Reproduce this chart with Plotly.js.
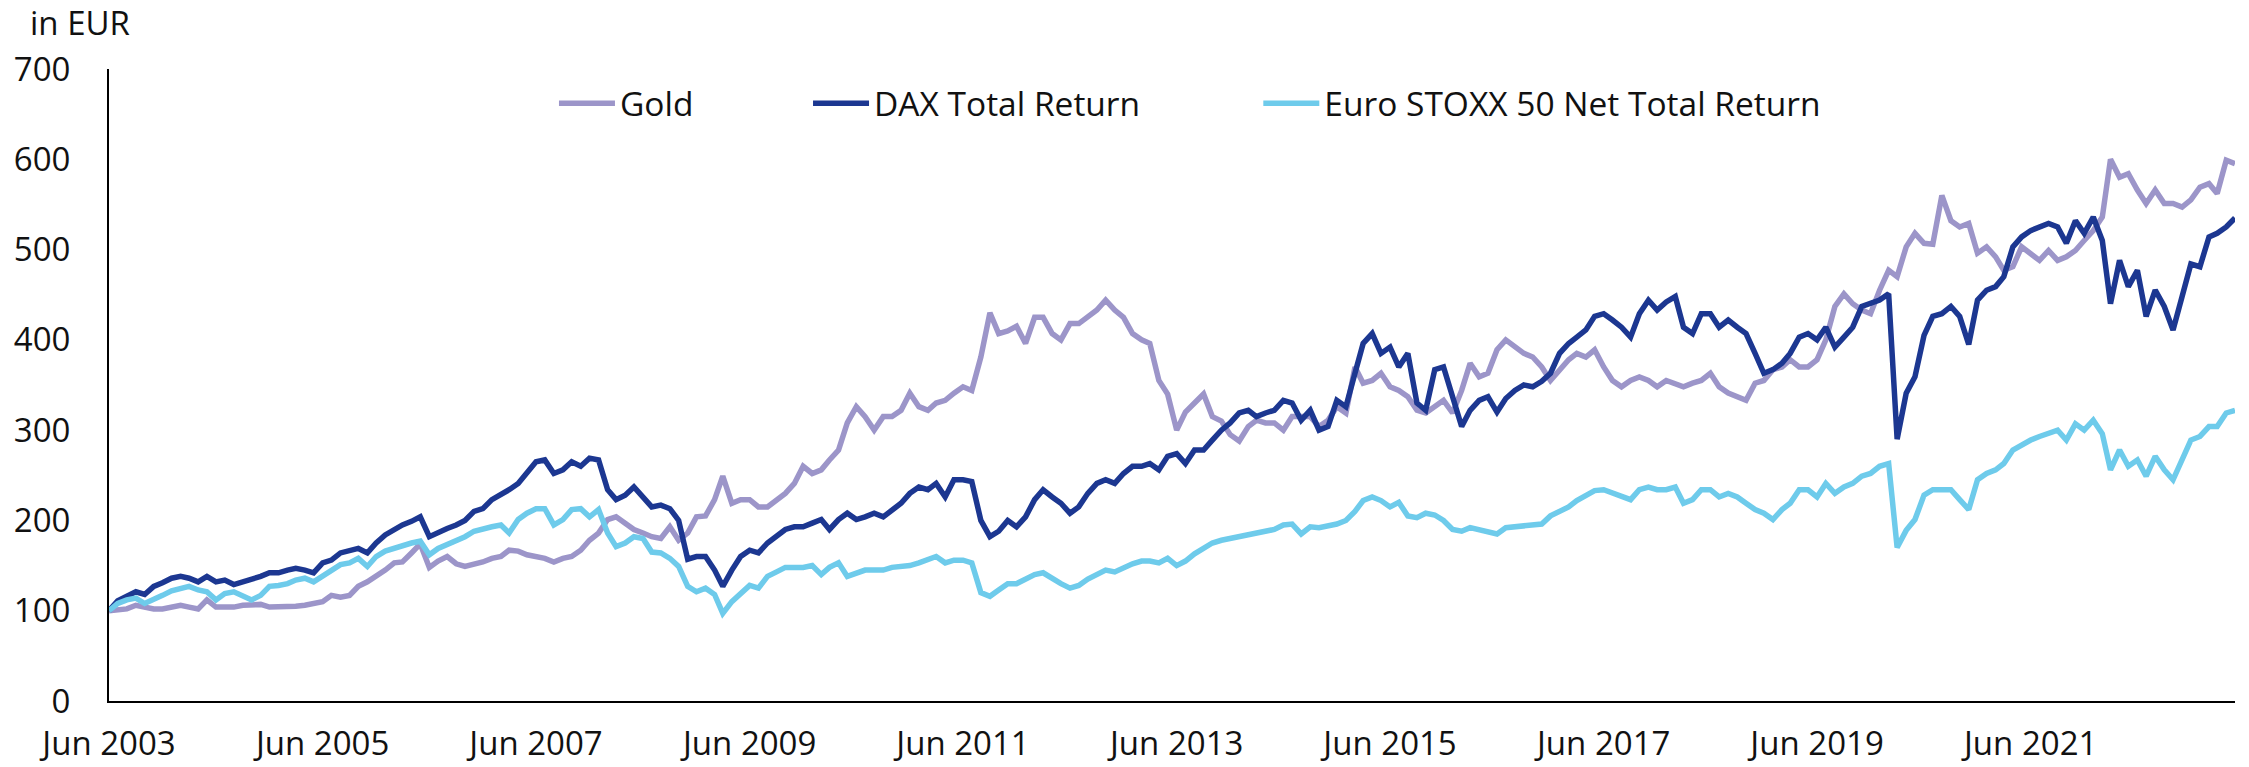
<!DOCTYPE html>
<html>
<head>
<meta charset="utf-8">
<script src="https://cdn.plot.ly/plotly-3.0.1.min.js"></script>
<style>
  html, body { margin: 0; padding: 0; background: #ffffff; }
  #chart { width: 2249px; height: 767px; }
</style>
</head>
<body>
<div id="chart"></div>
<script>
// Monthly observations, Jun 2003 .. May 2023 (rebased to 100 in EUR)
const START_YEAR = 2003;
const START_MONTH = 6;

const gold = [
  100,101,102,106,104,102,102,104,106,104,102,112,
  104,104,104,106,107,107,104,104,104,105,106,108,
  110,117,115,117,127,132,138,145,153,154,164,174,
  148,155,160,152,149,151,154,158,160,167,166,162,
  160,158,154,158,160,167,178,186,201,204,197,190,
  186,182,180,193,178,186,204,205,223,249,219,223,
  223,215,215,223,230,241,260,252,256,267,278,308,
  326,315,300,315,315,322,341,326,322,330,333,341,
  348,344,381,430,407,410,415,396,425,425,407,400,
  418,418,425,433,444,433,425,407,400,396,355,340,
  300,320,330,340,315,310,295,288,304,311,308,308,
  300,315,315,315,304,311,326,319,370,352,355,363,
  348,344,337,322,319,326,333,319,344,374,359,363,
  389,400,392,385,381,370,355,367,378,385,381,389,
  370,355,348,355,359,355,348,355,352,348,352,355,
  363,348,341,337,333,352,355,367,370,378,370,370,
  378,400,437,451,440,433,429,455,477,470,503,518,
  507,506,560,532,525,529,496,503,492,477,481,503,
  496,488,499,488,492,499,510,521,536,600,580,584,
  566,551,566,551,551,547,555,569,573,562,599,595
];

const dax = [
  100,111,116,121,118,127,131,136,138,136,132,138,
  132,134,129,132,134,138,142,142,145,147,145,142,
  153,156,164,166,169,164,175,184,190,195,199,204,
  182,187,191,195,200,210,213,223,228,234,241,252,
  265,267,252,256,265,260,269,267,234,223,228,237,
  226,215,217,213,200,157,160,160,145,127,145,160,
  167,164,175,182,190,193,193,197,201,190,201,208,
  201,204,208,204,212,219,230,237,234,241,226,245,
  245,243,200,182,188,200,193,204,223,234,226,219,
  208,215,230,241,245,241,252,260,260,263,256,271,
  274,263,278,278,289,300,308,319,322,315,319,322,
  333,330,311,322,300,304,333,326,363,396,407,385,
  392,370,385,330,322,367,370,337,304,322,333,337,
  320,335,344,350,348,354,363,385,396,403,411,426,
  429,422,414,403,429,444,433,442,448,414,407,429,
  429,414,422,414,407,385,363,367,374,385,403,407,
  400,414,392,403,414,437,440,444,451,290,341,359,
  405,426,429,437,426,395,444,455,459,470,503,514,
  521,525,529,525,507,532,518,536,510,440,488,459,
  477,426,455,437,411,448,484,481,514,518,525,535
];

const stoxx = [
  100,108,112,114,108,112,117,122,125,127,123,121,
  112,119,121,116,112,117,127,128,130,134,136,132,
  139,145,151,153,158,149,160,166,169,173,175,177,
  162,169,173,177,182,188,191,193,195,186,201,208,
  213,213,195,201,212,213,204,212,186,171,175,182,
  180,165,164,158,149,127,121,125,118,97,110,118,
  128,125,138,143,148,148,148,150,140,148,153,138,
  142,145,145,145,148,149,150,153,156,160,153,156,
  156,153,120,116,123,130,130,135,140,142,135,130,
  125,128,135,140,145,143,148,152,155,155,153,158,
  150,155,163,170,175,178,180,182,185,186,188,190,
  195,196,185,193,192,194,196,200,210,222,226,222,
  215,220,205,203,208,206,200,190,188,192,190,188,
  185,192,193,194,195,196,205,210,215,222,228,233,
  234,230,226,223,234,237,234,234,237,219,223,234,
  234,226,230,226,219,212,208,201,212,219,234,234,
  226,241,230,237,241,249,252,260,263,170,189,201,
  228,234,234,234,223,212,245,252,256,263,278,284,
  289,293,296,300,289,307,300,311,296,256,278,260,
  267,249,271,256,245,267,289,293,304,304,319,322
];

const seriesNames = ["Gold", "DAX Total Return", "Euro STOXX 50 Net Total Return"];
const seriesColors = ["#9c95c9", "#1c3791", "#6ecbeb"];

const tickValues = ["2003-06-01","2005-06-01","2007-06-01","2009-06-01","2011-06-01",
                    "2013-06-01","2015-06-01","2017-06-01","2019-06-01","2021-06-01"];
const tickLabels = ["Jun 2003","Jun 2005","Jun 2007","Jun 2009","Jun 2011",
                    "Jun 2013","Jun 2015","Jun 2017","Jun 2019","Jun 2021"];
const yTicks = [0,100,200,300,400,500,600,700];

function monthDates(n) {
  const out = [];
  for (let i = 0; i < n; i++) {
    const t = START_MONTH - 1 + i;
    const y = START_YEAR + Math.floor(t / 12);
    const m = (t % 12) + 1;
    out.push(y + "-" + String(m).padStart(2, "0") + "-01");
  }
  return out;
}
const dates = monthDates(gold.length);

const FONT = "Open Sans, Noto Sans, sans-serif";
const legendNames = ["legend", "legend2", "legend3"];
const traces = [gold, dax, stoxx].map((vals, i) => ({
  type: "scatter",
  mode: "lines",
  x: dates,
  y: vals,
  name: seriesNames[i],
  legend: legendNames[i],
  line: { color: seriesColors[i], width: 5.5, shape: "linear" },
  hoverinfo: "x+y+name"
}));

function legendAt(x) {
  return {
    orientation: "h", x: x, xanchor: "left", y: 0.9456, yanchor: "middle",
    bgcolor: "rgba(0,0,0,0)", borderwidth: 0, itemwidth: 56,
    font: { family: FONT, size: 33.5, color: "#111111" },
    itemclick: false, itemdoubleclick: false
  };
}

const layout = {
  width: 2249, height: 767,
  margin: { l: 109, r: 14, t: 69, b: 66, pad: 0 },
  paper_bgcolor: "#ffffff", plot_bgcolor: "#ffffff",
  font: { family: FONT, size: 33, color: "#111111" },
  showlegend: true,
  legend: legendAt(0.2093),
  legend2: legendAt(0.3288),
  legend3: legendAt(0.5406),
  xaxis: {
    type: "date",
    range: [dates[0], dates[dates.length - 1]],
    showgrid: false, zeroline: false,
    showline: true, linecolor: "#000000", linewidth: 2,
    ticks: "", tickvals: tickValues, ticktext: tickLabels,
    tickfont: { family: FONT, size: 33, color: "#111111" },
    ticklabelstandoff: 12
  },
  yaxis: {
    range: [0, 700],
    tickvals: yTicks,
    showgrid: false, zeroline: false,
    showline: true, linecolor: "#000000", linewidth: 2,
    ticks: "",
    tickfont: { family: FONT, size: 33, color: "#111111" },
    ticklabelstandoff: 30
  },
  annotations: [{
    text: "in EUR", xref: "paper", yref: "paper",
    x: -0.0381, xanchor: "left", y: 1.0737, yanchor: "middle",
    showarrow: false, font: { family: FONT, size: 33, color: "#111111" }
  }]
};

Plotly.newPlot("chart", traces, layout, { displayModeBar: false, staticPlot: true });
</script>
</body>
</html>
